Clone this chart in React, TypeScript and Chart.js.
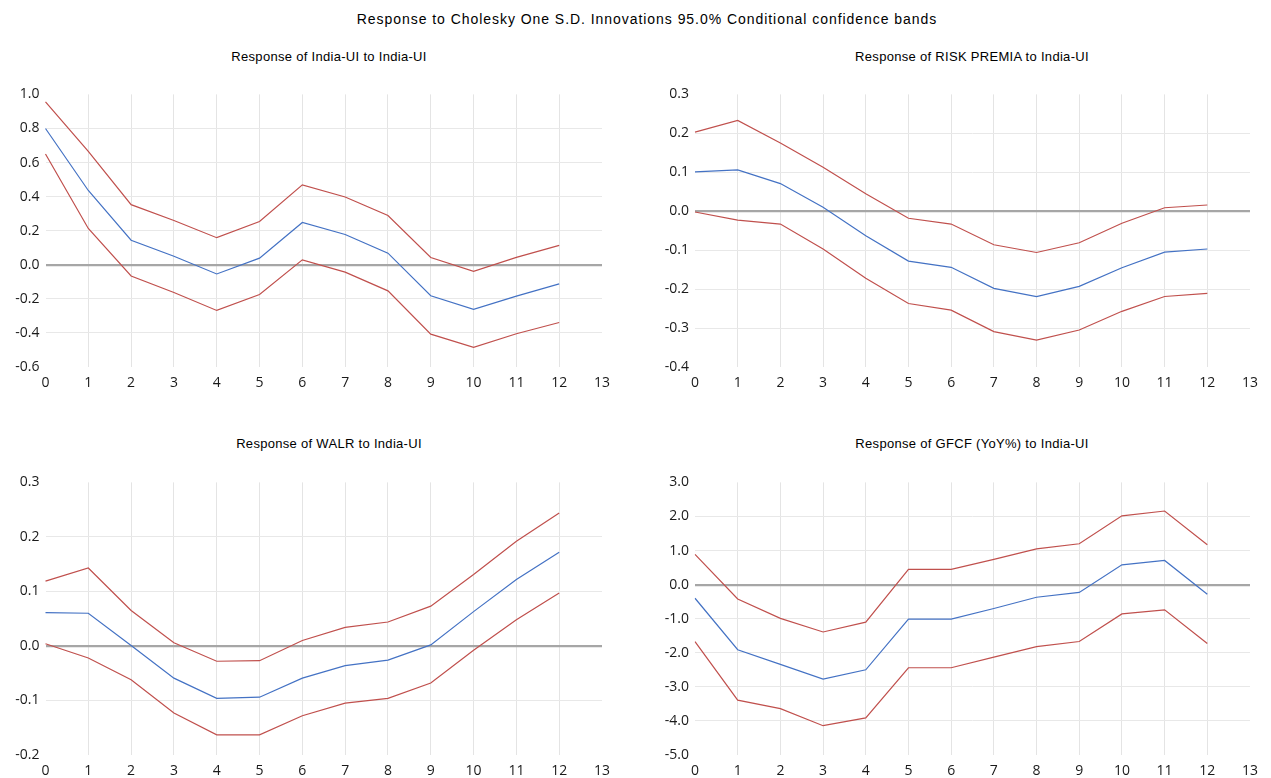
import React, { useEffect, useRef } from "react";
import { Chart, registerables } from "chart.js";

Chart.register(...registerables);

const horizons = ["0", "1", "2", "3", "4", "5", "6", "7", "8", "9", "10", "11", "12", "13"];

const mainTitle = "Response to Cholesky One S.D. Innovations 95.0% Conditional confidence bands";

const indiaUiTitle = "Response of India-UI to India-UI";
const indiaUiResp = [0.80, 0.436, 0.144, 0.05, -0.054, 0.039, 0.248, 0.178, 0.068, -0.182, -0.262, -0.184, -0.112];
const indiaUiUpper = [0.956, 0.665, 0.353, 0.26, 0.159, 0.254, 0.469, 0.398, 0.289, 0.043, -0.039, 0.043, 0.114];
const indiaUiLower = [0.65, 0.213, -0.066, -0.163, -0.268, -0.175, 0.029, -0.043, -0.153, -0.407, -0.485, -0.405, -0.339];

const riskTitle = "Response of RISK PREMIA to India-UI";
const riskResp = [0.101, 0.106, 0.071, 0.010, -0.063, -0.128, -0.144, -0.198, -0.219, -0.193, -0.145, -0.105, -0.097];
const riskUpper = [0.203, 0.233, 0.175, 0.113, 0.045, -0.018, -0.033, -0.086, -0.106, -0.081, -0.031, 0.009, 0.016];
const riskLower = [-0.002, -0.023, -0.033, -0.097, -0.172, -0.237, -0.254, -0.309, -0.331, -0.305, -0.257, -0.219, -0.211];

const walrTitle = "Response of WALR to India-UI";
const walrResp = [0.061, 0.060, 0.001, -0.059, -0.096, -0.094, -0.059, -0.036, -0.026, 0.002, 0.063, 0.122, 0.172];
const walrUpper = [0.119, 0.143, 0.065, 0.006, -0.028, -0.027, 0.010, 0.034, 0.044, 0.073, 0.131, 0.192, 0.244];
const walrLower = [0.004, -0.022, -0.062, -0.123, -0.163, -0.163, -0.128, -0.105, -0.096, -0.068, -0.008, 0.048, 0.097];

const gfcfTitle = "Response of GFCF (YoY%) to India-UI";
const gfcfResp = [-0.40, -1.91, -2.34, -2.77, -2.50, -1.01, -1.01, -0.70, -0.37, -0.23, 0.58, 0.71, -0.28];
const gfcfUpper = [0.89, -0.42, -0.99, -1.39, -1.10, 0.45, 0.45, 0.74, 1.05, 1.20, 2.02, 2.16, 1.17];
const gfcfLower = [-1.67, -3.39, -3.64, -4.14, -3.91, -2.44, -2.44, -2.13, -1.82, -1.67, -0.86, -0.74, -1.73];

const BLUE = "#4472C4";
const RED = "#C0504D";
const TICK_FONT = { family: "'Open Sans', 'Liberation Sans', sans-serif", size: 14 };

type PanelProps = {
  left: number;
  top: number;
  width: number;
  height: number;
  padTop: number;
  padRight: number;
  yWidth: number;
  xHeight: number;
  yMin: number;
  yMax: number;
  yStep: number;
  resp: number[];
  upper: number[];
  lower: number[];
};

function Panel(p: PanelProps) {
  const ref = useRef<HTMLCanvasElement | null>(null);
  useEffect(() => {
    if (!ref.current) return;
    const isEdge = (v: number) => Math.abs(v - p.yMin) < 1e-9 || Math.abs(v - p.yMax) < 1e-9;
    const chart = new Chart(ref.current, {
      type: "line",
      data: {
        labels: horizons,
        datasets: [
          { data: p.upper, borderColor: RED, borderWidth: 1.2, pointRadius: 0, fill: false, tension: 0 },
          { data: p.lower, borderColor: RED, borderWidth: 1.2, pointRadius: 0, fill: false, tension: 0 },
          { data: p.resp, borderColor: BLUE, borderWidth: 1.2, pointRadius: 0, fill: false, tension: 0 },
        ],
      },
      options: {
        responsive: false,
        animation: false,
        devicePixelRatio: 1,
        layout: { padding: { top: p.padTop, right: p.padRight, left: 0, bottom: 0 } },
        plugins: { legend: { display: false }, tooltip: { enabled: false }, title: { display: false } },
        scales: {
          x: {
            type: "category",
            offset: false,
            border: { display: false },
            grid: {
              drawTicks: false,
              color: (ctx: any) => (ctx.index === 0 || ctx.index === horizons.length - 1 ? "rgba(0,0,0,0)" : "#E4E4E4"),
              lineWidth: 1,
            },
            ticks: { color: "#1a1a1a", font: TICK_FONT, padding: 8, maxRotation: 0, autoSkip: false },
            afterFit: (s: any) => {
              s.height = p.xHeight;
            },
          },
          y: {
            min: p.yMin,
            max: p.yMax,
            border: { display: false },
            grid: {
              drawTicks: false,
              color: (ctx: any) =>
                Math.abs(ctx.tick.value) < 1e-9 ? "#A6A6A6" : isEdge(ctx.tick.value) ? "rgba(0,0,0,0)" : "#E8E8E8",
              lineWidth: (ctx: any) => (Math.abs(ctx.tick.value) < 1e-9 ? 2.2 : 1),
            },
            ticks: {
              stepSize: p.yStep,
              color: "#1a1a1a",
              font: TICK_FONT,
              padding: 6,
              callback: (v: any) => {
                const n = Number(v);
                return (Math.abs(n) < 1e-9 ? 0 : n).toFixed(1);
              },
            },
            afterFit: (s: any) => {
              s.width = p.yWidth;
            },
          },
        },
      },
    } as any);
    return () => chart.destroy();
  }, []);
  return (
    <canvas
      ref={ref}
      width={p.width}
      height={p.height}
      style={{ position: "absolute", left: p.left, top: p.top, width: p.width, height: p.height }}
    />
  );
}

const titleStyle: React.CSSProperties = {
  position: "absolute",
  fontFamily: "'Liberation Sans', Arial, sans-serif",
  fontSize: 13,
  letterSpacing: "0.3px",
  color: "#000",
  whiteSpace: "nowrap",
  transform: "translateX(-50%)",
  lineHeight: "15px",
};

export default function App() {
  return (
    <div style={{ position: "fixed", left: 0, top: 0, width: 1271, height: 778, overflow: "hidden", background: "#fff" }}>
      <div style={{ ...titleStyle, left: 647, top: 11, fontSize: 14, lineHeight: "16px", letterSpacing: "0.95px" }}>{mainTitle}</div>
      <div style={{ ...titleStyle, left: 329, top: 49 }}>{indiaUiTitle}</div>
      <div style={{ ...titleStyle, left: 972, top: 49 }}>{riskTitle}</div>
      <div style={{ ...titleStyle, left: 329, top: 436 }}>{walrTitle}</div>
      <div style={{ ...titleStyle, left: 972, top: 436 }}>{gfcfTitle}</div>
      <Panel left={0} top={80} width={640} height={320} padTop={11} padRight={38} yWidth={45.5} xHeight={33}
        yMin={-0.6} yMax={1.0} yStep={0.2} resp={indiaUiResp} upper={indiaUiUpper} lower={indiaUiLower} />
      <Panel left={640} top={80} width={631} height={320} padTop={11} padRight={21} yWidth={55} xHeight={33}
        yMin={-0.4} yMax={0.3} yStep={0.1} resp={riskResp} upper={riskUpper} lower={riskLower} />
      <Panel left={0} top={468} width={640} height={320} padTop={11} padRight={38} yWidth={45.5} xHeight={33}
        yMin={-0.2} yMax={0.3} yStep={0.1} resp={walrResp} upper={walrUpper} lower={walrLower} />
      <Panel left={640} top={468} width={631} height={320} padTop={11} padRight={21} yWidth={55} xHeight={33}
        yMin={-5} yMax={3} yStep={1} resp={gfcfResp} upper={gfcfUpper} lower={gfcfLower} />
    </div>
  );
}
